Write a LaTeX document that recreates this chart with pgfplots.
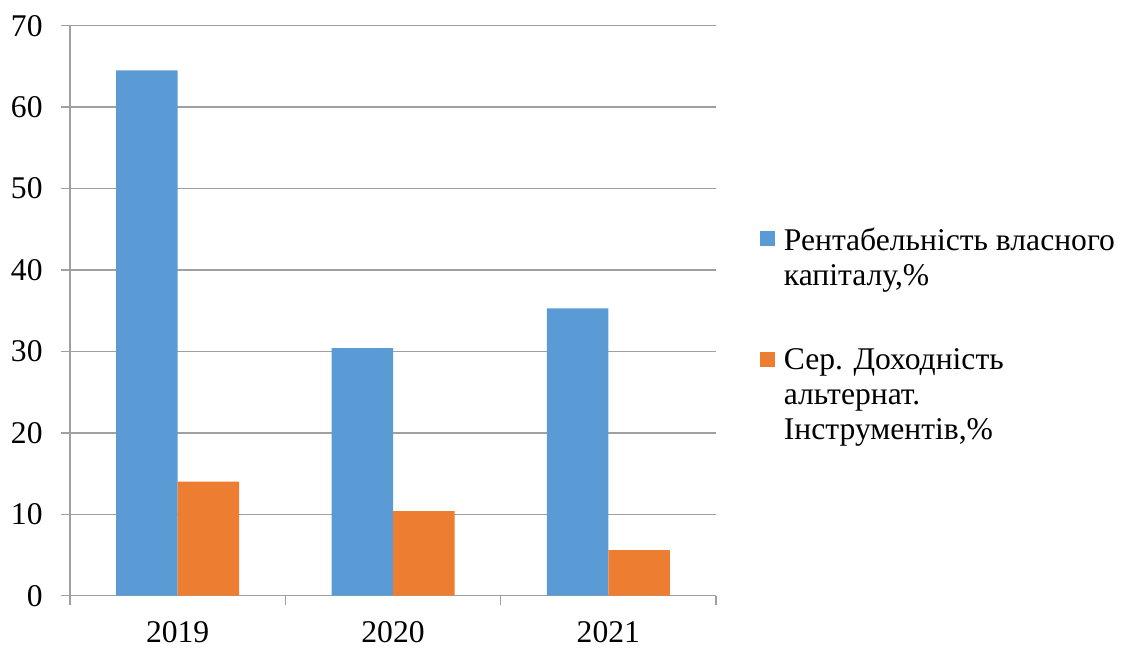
\documentclass[border=0pt]{standalone}
\usepackage{fontspec}
\setmainfont{Liberation Serif}
\usepackage{pgfplots}
\pgfplotsset{compat=1.18}

\definecolor{roeblue}{HTML}{5B9BD5}
\definecolor{altorange}{HTML}{ED7D31}
\definecolor{gridgray}{HTML}{A0A0A0}

\newcommand{\chartfont}{\fontsize{15.8}{17.5}\selectfont}

\begin{document}
\begin{tikzpicture}
\begin{axis}[
  scale only axis, width=323pt, height=285pt,
  ybar=0pt, bar width=30.75pt,
  xmin=-0.5, xmax=2.5, ymin=0, ymax=70,
  ytick={0,10,...,70},
  xtick={-0.5,0.5,1.5,2.5}, xticklabels={},
  extra x ticks={0,1,2},
  extra x tick labels={2019,2020,2021},
  extra x tick style={major tick length=0pt, grid=none},
  axis lines*=left,
  axis line style={gridgray, line width=0.7pt},
  ymajorgrids,
  grid style={gridgray, line width=0.7pt},
  tick align=outside,
  major tick length=4.5pt,
  tick style={gridgray, line width=0.7pt},
  /pgf/number format/assume math mode=true,
  ticklabel style={font=\chartfont, text=black},
  yticklabel style={inner sep=0pt, anchor=east},
  xticklabel style={inner sep=0pt, anchor=north},
  yticklabel shift=9pt,
  xticklabel shift=12.5pt,
  legend cell align=left,
  legend image code/.code={\fill[#1] (0pt,-1.5pt) rectangle (7.5pt,-9pt);},
  legend style={
    at={(1.068,0.645)}, anchor=north west,
    draw=none, fill=none, inner sep=0pt, outer sep=0pt,
    font=\chartfont, row sep=30pt, column sep=4.5pt,
    nodes={inner sep=0pt},
    cells={align=left, anchor=north west},
  },
]
\addplot[fill=roeblue, draw=none] coordinates {(0,64.5) (1,30.4) (2,35.3)};
\addlegendentry{Рентабельність власного\\капіталу,\%}
\addplot[fill=altorange, draw=none] coordinates {(0,14.0) (1,10.4) (2,5.6)};
\addlegendentry{Сер. Доходність\\альтернат.\\Інструментів,\%}
% lower left corner of the plot area
\coordinate (plotSW) at (rel axis cs:0,0);
\end{axis}
% page frame: 1122 x 647 px at 0.5 pt per px, plot area 35pt in and 25.65pt up
\pgfresetboundingbox
\useasboundingbox ([shift={(-35pt,-25.65pt)}]plotSW) rectangle ++(561pt,323.5pt);
\end{tikzpicture}
\end{document}
